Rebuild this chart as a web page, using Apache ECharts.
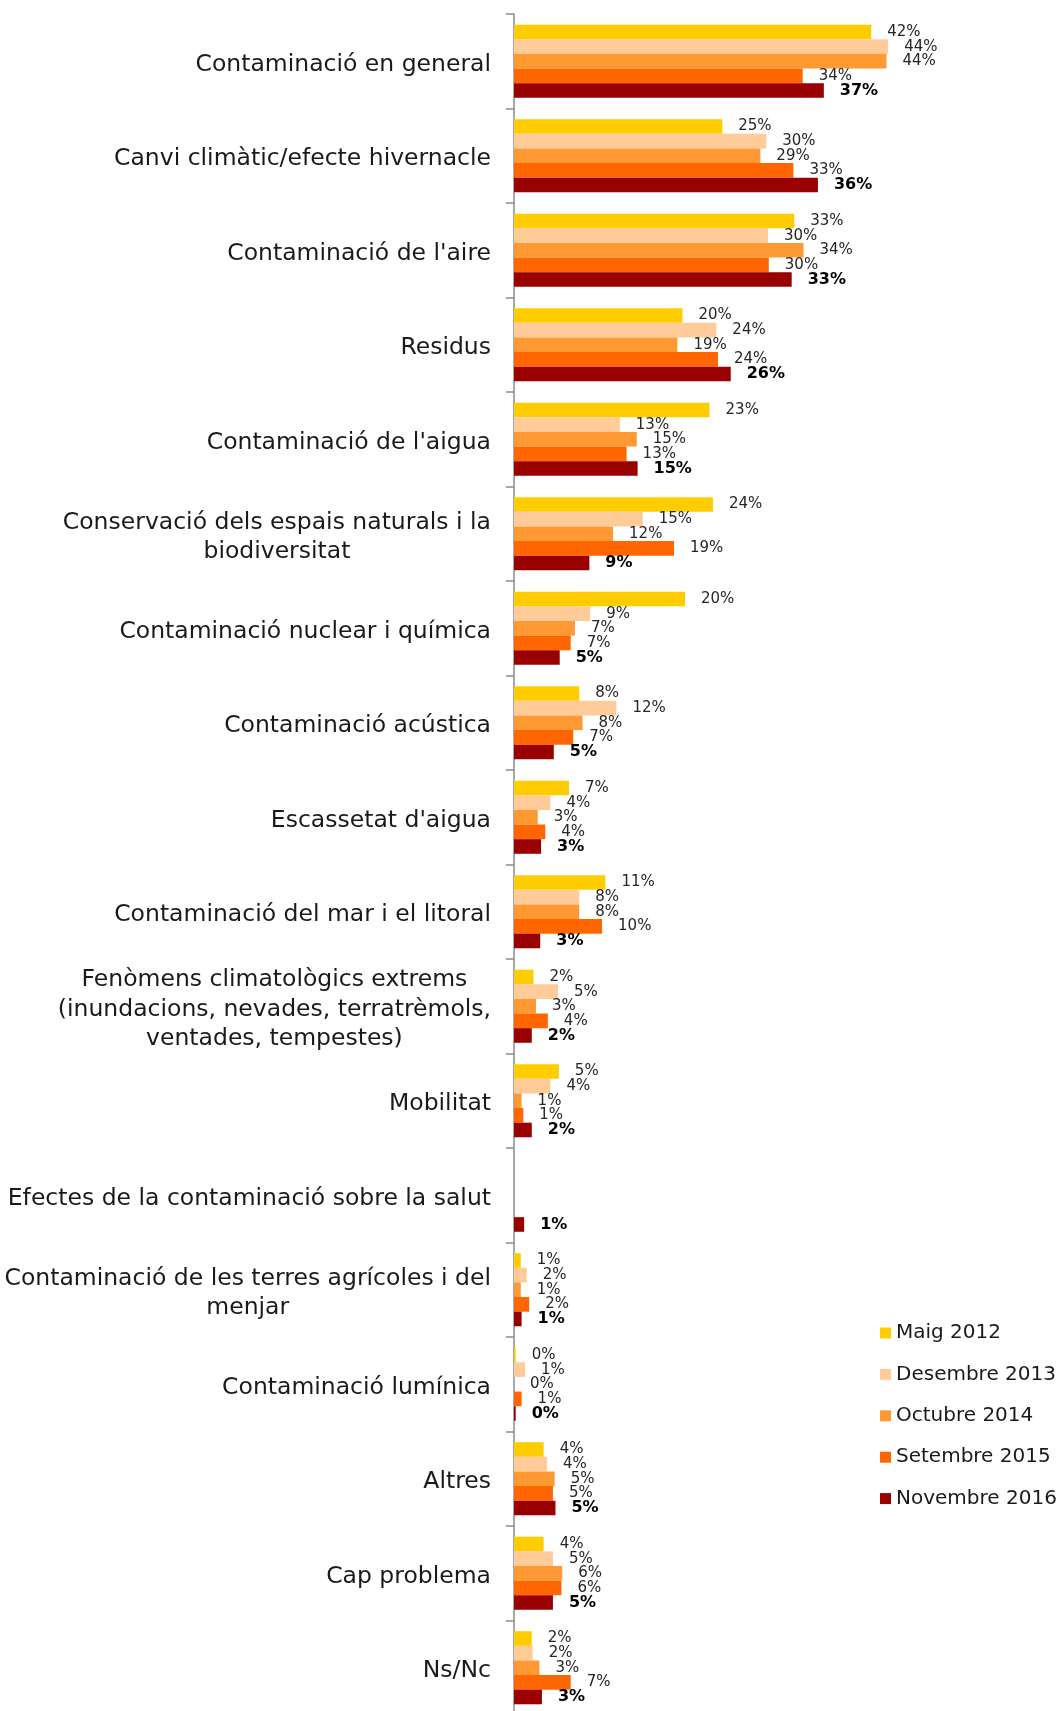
<!DOCTYPE html>
<html><head><meta charset="utf-8">
<script src="https://cdn.jsdelivr.net/npm/echarts@6/dist/echarts.min.js"></script>
<style>html,body{margin:0;padding:0;background:#fff}#c{width:1063px;height:1711px}</style>
</head><body><div id="c"></div><script>
const categories = [
  "Contaminació en general",
  "Canvi climàtic/efecte hivernacle",
  "Contaminació de l'aire",
  "Residus",
  "Contaminació de l'aigua",
  "Conservació dels espais naturals i la\nbiodiversitat",
  "Contaminació nuclear i química",
  "Contaminació acústica",
  "Escassetat d'aigua",
  "Contaminació del mar i el litoral",
  "Fenòmens climatològics extrems\n(inundacions, nevades, terratrèmols,\nventades, tempestes)",
  "Mobilitat",
  "Efectes de la contaminació sobre la salut",
  "Contaminació de les terres agrícoles i del\nmenjar",
  "Contaminació lumínica",
  "Altres",
  "Cap problema",
  "Ns/Nc"
];
const seriesNames = ["Maig 2012", "Desembre 2013", "Octubre 2014", "Setembre 2015", "Novembre 2016"];
const seriesColors = ["#FFCC00", "#FFCC99", "#FF9933", "#FF6600", "#990000"];
const maig2012 = [42.2, 24.6, 33.1, 19.9, 23.1, 23.5, 20.2, 7.7, 6.5, 10.8, 2.3, 5.3, null, 0.8, 0.2, 3.5, 3.5, 2.1];
const desembre2013 = [44.2, 29.8, 30.0, 23.9, 12.5, 15.2, 9.0, 12.1, 4.3, 7.7, 5.2, 4.3, null, 1.5, 1.3, 3.9, 4.6, 2.2];
const octubre2014 = [44.0, 29.1, 34.2, 19.3, 14.5, 11.7, 7.2, 8.1, 2.8, 7.7, 2.6, 0.9, null, 0.8, 0.0, 4.8, 5.7, 3.0];
const setembre2015 = [34.1, 33.0, 30.1, 24.1, 13.3, 18.9, 6.7, 7.0, 3.7, 10.4, 4.0, 1.1, null, 1.8, 0.9, 4.6, 5.6, 6.7];
const novembre2016 = [36.6, 35.9, 32.8, 25.6, 14.6, 8.9, 5.4, 4.7, 3.2, 3.1, 2.1, 2.1, 1.2, 0.9, 0.2, 4.9, 4.6, 3.3];
const allValues = [maig2012, desembre2013, octubre2014, setembre2015, novembre2016];

const FONT = '"DejaVu Sans", sans-serif';
const chart = echarts.init(document.getElementById('c'));

const series = seriesNames.map((name, i) => {
  const last = i === seriesNames.length - 1;
  return {
    name: name,
    type: 'bar',
    data: allValues[i],
    barGap: '0%',
    barCategoryGap: '22.7%',
    itemStyle: { color: seriesColors[i] },
    label: {
      show: true,
      position: 'right',
      distance: 16,
      fontFamily: FONT,
      fontSize: last ? 16 : 15,
      fontWeight: last ? 'bold' : 'normal',
      color: last ? '#000' : '#262626',
      padding: [3, 0, 0, 0],
      formatter: p => (p.value == null ? '' : Math.round(p.value) + '%')
    }
  };
});

chart.setOption({
  animation: false,
  backgroundColor: '#fff',
  grid: { left: 514, top: 14, width: 423.3, height: 1701, containLabel: false, outerBoundsMode: 'none' },
  xAxis: { type: 'value', min: 0, max: 50, show: false },
  yAxis: {
    type: 'category',
    inverse: true,
    data: categories,
    axisLine: { show: true, lineStyle: { color: '#8c8c8c', width: 1.5 } },
    axisTick: { show: true, length: 8, lineStyle: { color: '#8c8c8c', width: 1.5 } },
    axisLabel: {
      interval: 0,
      margin: 23,
      fontFamily: FONT,
      fontSize: 23.5,
      color: '#1a1a1a',
      lineHeight: 29.5,
      padding: [7, 0, 0, 0],
      formatter: v => v.split('\n').map(l => '{c|' + l + '}').join('\n'),
      rich: { c: { align: 'center', fontFamily: FONT, fontSize: 23.5, lineHeight: 29.5, color: '#1a1a1a' } }
    }
  },
  legend: {
    orient: 'vertical',
    left: 880,
    top: 1323,
    padding: 0,
    itemWidth: 11,
    itemHeight: 11,
    itemGap: 21.4,
    icon: 'rect',
    textStyle: { fontFamily: FONT, fontSize: 20, color: '#1a1a1a', lineHeight: 20 },
    data: seriesNames
  },
  series: series
});
</script></body></html>
